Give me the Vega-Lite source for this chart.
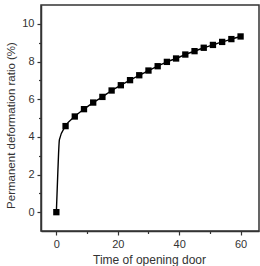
{
  "$schema": "https://vega.github.io/schema/vega-lite/v6.json",
  "autosize": "none",
  "width": 218,
  "height": 226,
  "padding": {"left": 41, "top": 5, "right": 1, "bottom": 35},
  "background": "white",
  "config": {
    "view": {"stroke": "#333", "strokeWidth": 1.5},
    "font": "Liberation Sans",
    "axis": {"grid": false, "domainColor": "#333", "tickColor": "#333", "labelColor": "#333", "titleColor": "#333", "labelFont": "Liberation Sans", "titleFont": "Liberation Sans", "titleFontWeight": "normal", "labelFontSize": 11, "titleFontSize": 12, "domainWidth": 1.5, "tickWidth": 1.2}
  },
  "data": {
    "values": [
      {"t": 0, "r": 0, "m": true},
      {"t": 0.5, "r": 2.2, "m": false},
      {"t": 1, "r": 3.85, "m": false},
      {"t": 3, "r": 4.57, "m": true},
      {"t": 6, "r": 5.08, "m": true},
      {"t": 9, "r": 5.47, "m": true},
      {"t": 12, "r": 5.82, "m": true},
      {"t": 15, "r": 6.12, "m": true},
      {"t": 18, "r": 6.46, "m": true},
      {"t": 21, "r": 6.74, "m": true},
      {"t": 24, "r": 7.01, "m": true},
      {"t": 27, "r": 7.27, "m": true},
      {"t": 30, "r": 7.52, "m": true},
      {"t": 33, "r": 7.75, "m": true},
      {"t": 36, "r": 7.98, "m": true},
      {"t": 39, "r": 8.16, "m": true},
      {"t": 42, "r": 8.37, "m": true},
      {"t": 45, "r": 8.55, "m": true},
      {"t": 48, "r": 8.73, "m": true},
      {"t": 51, "r": 8.88, "m": true},
      {"t": 54, "r": 9.04, "m": true},
      {"t": 57, "r": 9.19, "m": true},
      {"t": 60, "r": 9.33, "m": true}
    ]
  },
  "encoding": {
    "x": {"field": "t", "type": "quantitative", "scale": {"domain": [-5, 66], "nice": false, "zero": false}},
    "y": {"field": "r", "type": "quantitative", "scale": {"domain": [-1, 11], "nice": false, "zero": false}}
  },
  "layer": [
    {
      "mark": {"type": "line", "color": "black", "strokeWidth": 1.4, "interpolate": "monotone"},
      "encoding": {
        "x": {"field": "t", "type": "quantitative", "axis": {"title": "Time of opening door", "values": [0, 20, 40, 60], "tickSize": 4, "labelPadding": 3, "titlePadding": 5, "titleX": 108}},
        "y": {"field": "r", "type": "quantitative", "axis": {"title": "Permanent deformation ratio (%)", "values": [0, 2, 4, 6, 8, 10], "tickSize": 4, "labelPadding": 3, "titlePadding": 5, "titleFontSize": 11.5, "titleY": 120}}
      }
    },
    {
      "transform": [{"filter": "datum.m"}],
      "mark": {"type": "square", "color": "black", "filled": true, "opacity": 1, "size": 40},
      "encoding": {
        "x": {"field": "t", "type": "quantitative", "axis": {"title": null, "values": [10, 30, 50], "labels": false, "tickSize": 2.5, "orient": "bottom", "domain": false}},
        "y": {"field": "r", "type": "quantitative", "axis": {"title": null, "values": [1, 3, 5, 7, 9], "labels": false, "tickSize": 2.5, "orient": "left", "domain": false}}
      }
    }
  ],
  "resolve": {"axis": {"x": "independent", "y": "independent"}}
}
